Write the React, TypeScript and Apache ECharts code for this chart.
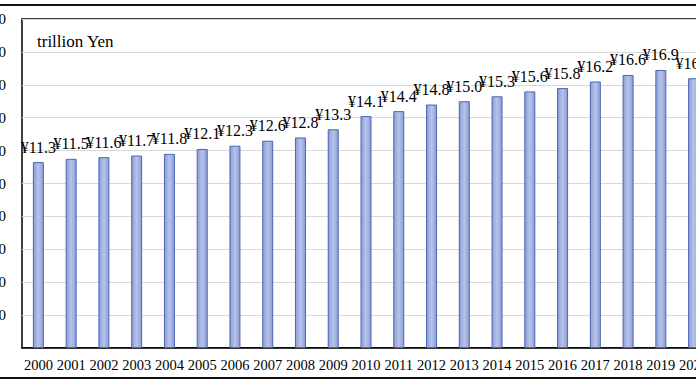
import React, { useEffect, useRef } from "react";
import * as echarts from "echarts";

const years = ["2000","2001","2002","2003","2004","2005","2006","2007","2008","2009","2010","2011","2012","2013","2014","2015","2016","2017","2018","2019","2020"];
const values = [11.3,11.5,11.6,11.7,11.8,12.1,12.3,12.6,12.8,13.3,14.1,14.4,14.8,15.0,15.3,15.6,15.8,16.2,16.6,16.9,16.4];
const unitLabel = "trillion Yen";

export default function App() {
  const ref = useRef<HTMLDivElement>(null);
  useEffect(() => {
    if (!ref.current) return;
    const chart = echarts.init(ref.current, null, { renderer: "svg" });
    const serif = "'Liberation Serif', 'DejaVu Serif', serif";
    chart.setOption({
      animation: false,
      backgroundColor: "#fff",
      grid: {
        left: 22,
        top: 19,
        bottom: 37,
        right: -14,
        show: true,
        borderColor: "#000",
        borderWidth: 1.5,
        backgroundColor: "#fff",
        containLabel: false,
        outerBoundsMode: "none",
      },
      xAxis: {
        type: "category",
        data: years,
        axisLine: { show: true, lineStyle: { color: "#000", width: 1.5 } },
        axisTick: { show: false },
        axisLabel: { color: "#000", fontFamily: serif, fontSize: 14.5, margin: 9, interval: 0 },
      },
      yAxis: {
        type: "value",
        min: 0,
        max: 20,
        interval: 2,
        axisLine: { show: false },
        axisTick: { show: false },
        splitLine: { show: true, lineStyle: { color: "#d9d9d9", width: 1 } },
        axisLabel: {
          color: "#000",
          fontFamily: serif,
          fontSize: 15,
          margin: 16,
          formatter: (v: number) => (v === 0 ? "" : "¥" + v.toFixed(1)),
        },
      },
      series: [
        {
          type: "bar",
          data: values,
          barWidth: 11,
          itemStyle: {
            color: new echarts.graphic.LinearGradient(0, 0, 1, 0, [
              { offset: 0, color: "#8a9dd6" },
              { offset: 0.5, color: "#b7c3ea" },
              { offset: 1, color: "#8a9dd6" },
            ]),
            borderColor: "#4c66b3",
            borderWidth: 1,
          },
          label: {
            show: true,
            position: "top",
            distance: 7,
            color: "#000",
            fontFamily: serif,
            fontSize: 16,
            formatter: (p: any) => "¥" + Number(p.value).toFixed(1),
          },
        },
      ],
      graphic: [
        {
          type: "line",
          shape: { x1: 0, y1: 5, x2: 696, y2: 5 },
          style: { stroke: "#111", lineWidth: 2 },
        },
        {
          type: "line",
          shape: { x1: 0, y1: 378, x2: 696, y2: 378 },
          style: { stroke: "#111", lineWidth: 2 },
        },
        {
          type: "text",
          left: 37,
          top: 33,
          style: { text: unitLabel, fill: "#000", fontFamily: serif, fontSize: 17 },
        },
      ],
    });
    return () => chart.dispose();
  }, []);
  return (
    <div
      ref={ref}
      style={{ position: "fixed", left: 0, top: 0, width: 696, height: 385 }}
    />
  );
}
